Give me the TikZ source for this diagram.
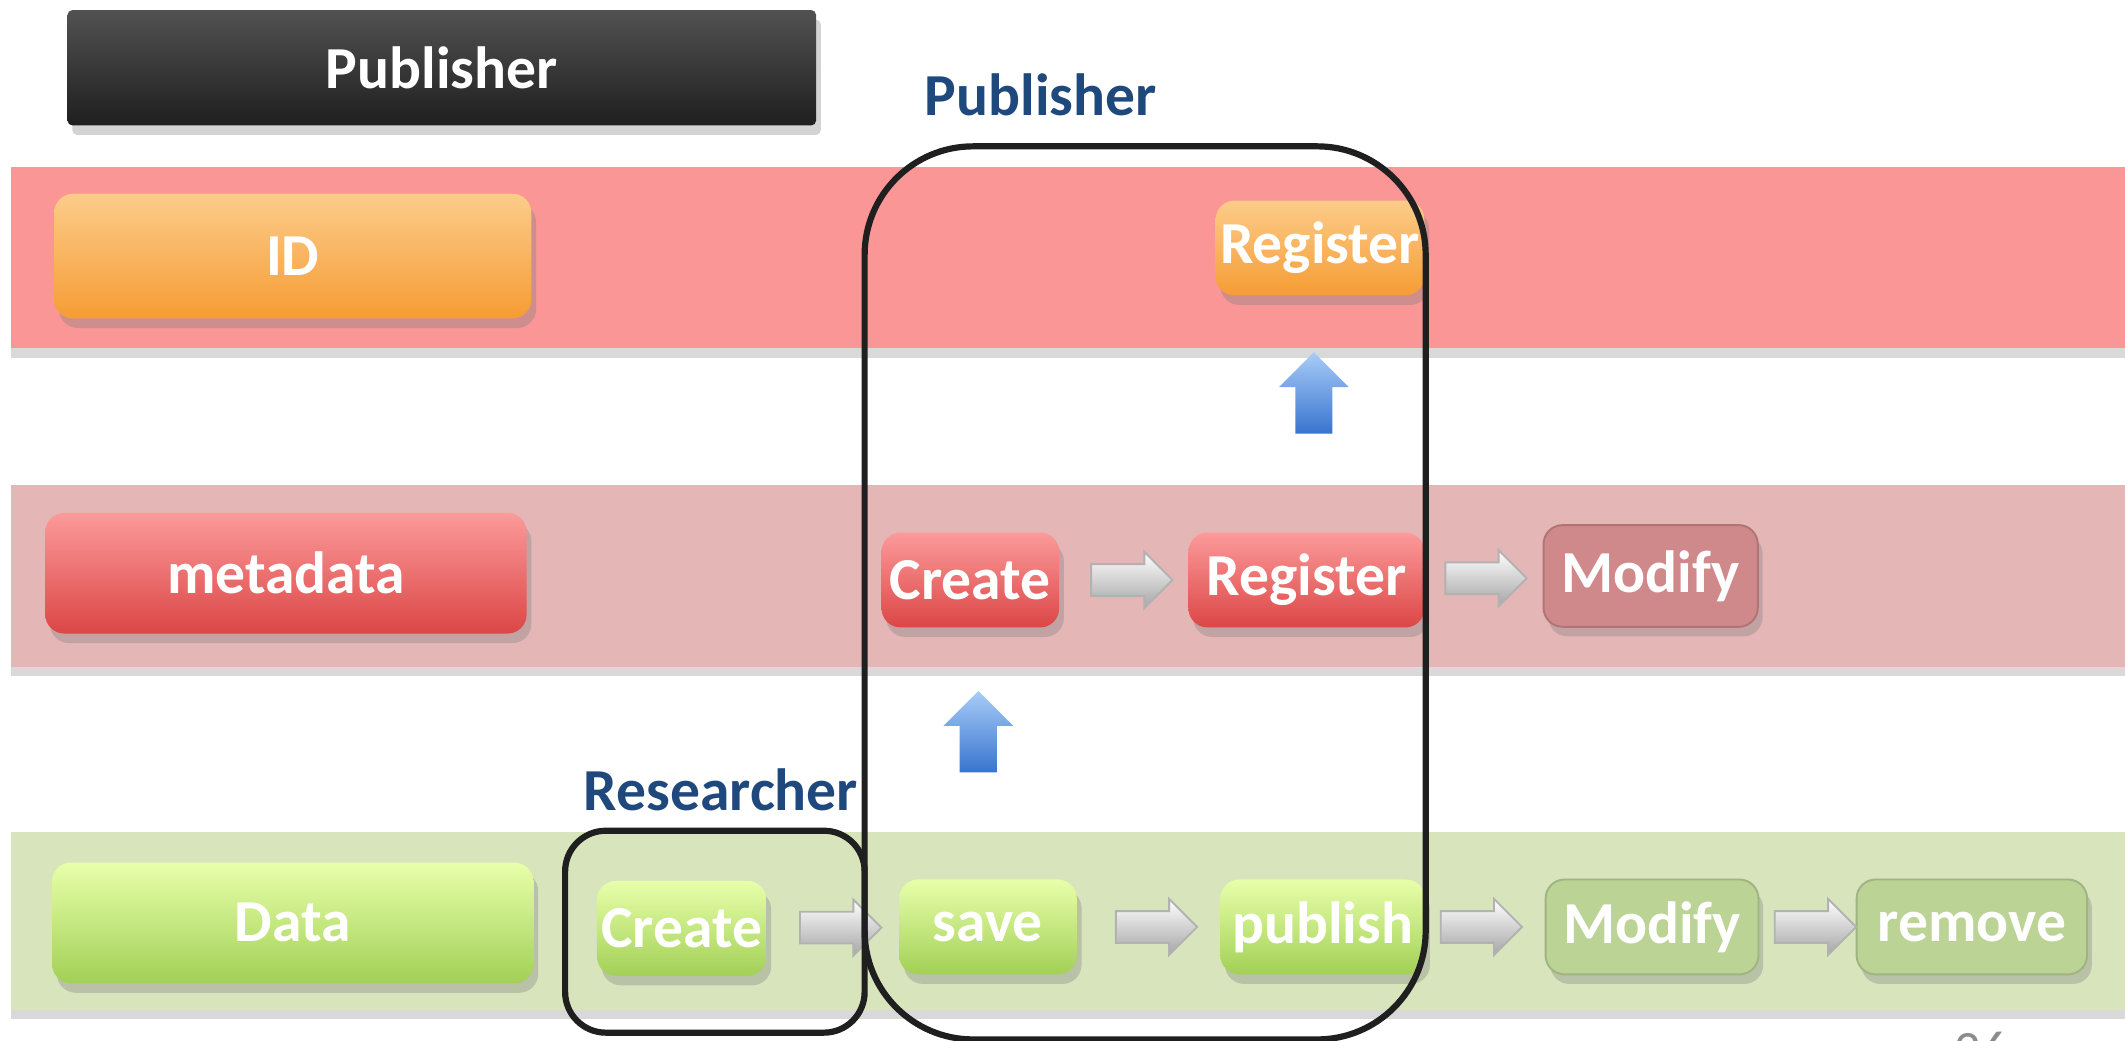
\documentclass[tikz,border=0pt]{standalone}
\usepackage{fontspec}
\setmainfont{Carlito}
\usetikzlibrary{shapes.arrows,shadows,positioning,calc}
\definecolor{idband}{RGB}{250,150,150}
\definecolor{metaband}{RGB}{228,182,182}
\definecolor{databand}{RGB}{216,228,188}
\definecolor{otop}{RGB}{252,204,138}
\definecolor{obot}{RGB}{246,156,52}
\definecolor{rtop}{RGB}{252,154,154}
\definecolor{rbot}{RGB}{220,70,70}
\definecolor{rdim}{RGB}{208,137,138}
\definecolor{gtop}{RGB}{232,255,170}
\definecolor{gbot}{RGB}{162,208,86}
\definecolor{gdim}{RGB}{188,211,150}
\definecolor{btop}{RGB}{168,204,248}
\definecolor{bbot}{RGB}{56,116,206}
\definecolor{roleblue}{RGB}{31,73,125}
\tikzset{%
    % style for the coloured layer bands
    band/.style={%
        drop shadow={shadow xshift=0pt, shadow yshift=-2pt, opacity=0.3},
    },
    % style for all labelled boxes
    label box/.style={%
        rounded corners=4pt,
        inner sep=0pt,
        text=white,
        font=\bfseries\fontsize{12.5}{15}\selectfont,
        drop shadow={shadow xshift=1pt, shadow yshift=-2pt, opacity=0.35},
    },
    % the dark title box
    head box/.style={%
        label box, rounded corners=1pt,
        top color=black!68, bottom color=black!88,
    },
    % orange boxes of the ID layer
    id box/.style={label box, top color=otop, bottom color=obot},
    % red boxes of the metadata layer
    meta box/.style={label box, top color=rtop, bottom color=rbot},
    meta dim/.style={label box, fill=rdim, draw=rdim!85!black, thin},
    % green boxes of the data layer
    data box/.style={label box, top color=gtop, bottom color=gbot},
    data dim/.style={label box, fill=gdim, draw=gdim!85!black, thin},
    % small step boxes
    small/.style={minimum height=0.7cm},
    % grey block arrows between the steps
    grey arrow/.style={%
        shape=single arrow,
        single arrow head extend=0.09cm,
        inner sep=0.11cm,
        minimum width=0.4cm,
        minimum height=0.6cm,
        top color=white, bottom color=black!35,
        draw=black!30, thin,
    },
    % blue block arrows between the layers
    blue arrow/.style={%
        shape=single arrow,
        shape border rotate=90,
        single arrow head extend=0.12cm,
        inner sep=0.13cm,
        minimum width=0.5cm,
        minimum height=0.6cm,
        top color=btop, bottom color=bbot,
        draw=none,
    },
    % frames round what a role does
    role frame/.style={%
        draw=black!88, line width=1.3pt,
    },
    % role names
    role/.style={%
        text=roleblue,
        font=\bfseries\fontsize{12.5}{15}\selectfont,
    },
}

\begin{document}
\begin{tikzpicture}[x=0.01cm, y=-0.01cm]
    \useasboundingbox (0,0) rectangle (1568,768);
    % layer bands
    \fill [band, idband]   (8,123) rectangle (1568,257);
    \fill [band, metaband] (8,358) rectangle (1568,492);
    \fill [band, databand] (8,614) rectangle (1568,745);
    % title
    \node (pubhead) [head box, minimum width=5.52cm, minimum height=0.85cm]
          at (326,50) {Publisher};
    % layer names
    \node (id) [id box, minimum width=3.52cm, minimum height=0.92cm]
          at (216,189) {ID};
    \node (meta) [meta box, minimum width=3.55cm, minimum height=0.89cm]
          at (211,423) {metadata};
    \node (data) [data box, minimum width=3.55cm, minimum height=0.89cm]
          at (216,681) {Data};
    % ID layer
    \node (iregister) [id box, small, minimum width=1.54cm] at (974,183) {Register};
    % metadata layer
    \node (mcreate) [meta box, small, minimum width=1.31cm] at (716,428) {Create};
    \node (mregister) [meta box, small, minimum width=1.74cm] at (964,428) {Register};
    \node (mmodify) [meta dim, minimum height=0.75cm, minimum width=1.58cm]
          at (1218,425) {Modify};
    % data layer
    \node (dcreate) [data box, small, minimum width=1.25cm] at (503,685) {Create};
    \node (save) [data box, small, minimum width=1.31cm] at (729,684) {save};
    \node (publish) [data box, small, minimum width=1.51cm] at (976,684) {publish};
    \node (dmodify) [data dim, small, minimum width=1.57cm] at (1219,684) {Modify};
    \node (remove) [data dim, small, minimum width=1.70cm] at (1455,684) {remove};
    % steps
    \node (m1) [grey arrow] at ($(mcreate.east)!.5!(mregister.west)$) {};
    \node (m2) [grey arrow] at ($(mregister.east)!.45!(mmodify.west)$) {};
    \node (d1) [grey arrow] at ($(dcreate.east)!.5!(save.west)$) {};
    \node (d2) [grey arrow] at ($(save.east)!.5!(publish.west)$) {};
    \node (d3) [grey arrow] at ($(publish.east)!.4!(dmodify.west)$) {};
    \node (d4) [grey arrow] at ($(dmodify.east)!.5!(remove.west)$) {};
    %% between the layers
    \node (up1) [blue arrow] at ($(mregister.north)!.55!(iregister.south)$) {};
    \node (up2) [blue arrow] at ($(save.north)!.55!(mcreate.south)$) {};
    % roles
    \draw [role frame, rounded corners=0.3cm] (417,613) rectangle (638,762);
    \draw [role frame, rounded corners=0.8cm] (638,108) rectangle (1052,767);
    \node (researcher) [role] at (532,583) {Researcher};
    \node (publisher) [role] at (768,70) {Publisher};
    % page number, cut by the page edge
    \node (pagenum) [anchor=north, text=black!45, font=\fontsize{11}{13}\selectfont,
                     inner sep=0pt] at (1462,761) {26};
\end{tikzpicture}
\end{document}
